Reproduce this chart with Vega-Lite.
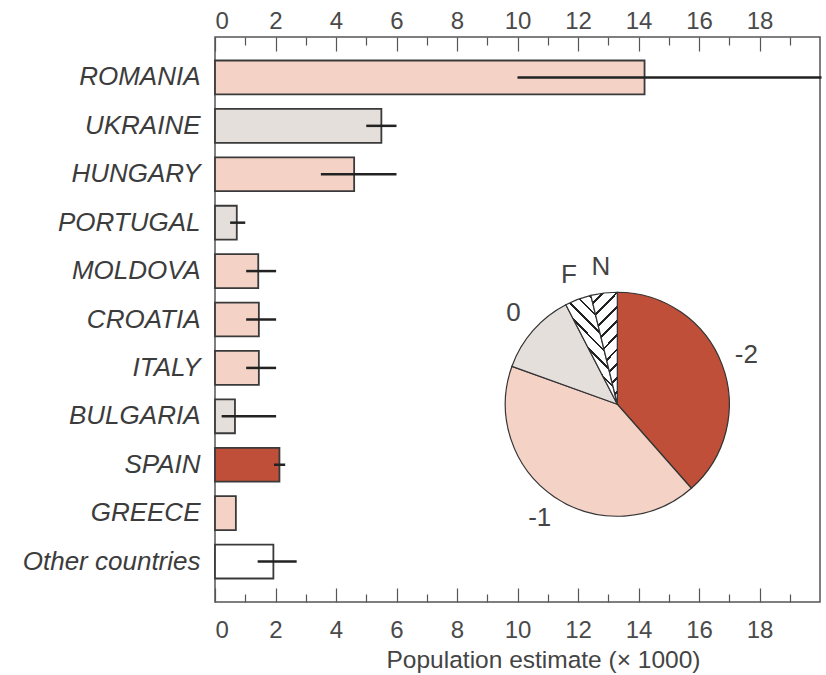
{
  "$schema": "https://vega.github.io/schema/vega-lite/v6.json",
  "width": 605,
  "height": 565,
  "autosize": {"type": "none"},
  "padding": {"left": 215, "top": 37, "right": 6, "bottom": 73},
  "background": "white",
  "config": {
    "view": {"stroke": "#555555", "strokeWidth": 1.5},
    "font": "Liberation Sans"
  },
  "datasets": {
    "countries": [
      {"country": "ROMANIA", "est": 14.2, "lo": 10.0, "hi": 20.05, "cat": "-1"},
      {"country": "UKRAINE", "est": 5.5, "lo": 5.0, "hi": 6.0, "cat": "0"},
      {"country": "HUNGARY", "est": 4.6, "lo": 3.5, "hi": 6.0, "cat": "-1"},
      {"country": "PORTUGAL", "est": 0.72, "lo": 0.5, "hi": 1.0, "cat": "0"},
      {"country": "MOLDOVA", "est": 1.43, "lo": 1.03, "hi": 2.02, "cat": "-1"},
      {"country": "CROATIA", "est": 1.45, "lo": 1.03, "hi": 2.02, "cat": "-1"},
      {"country": "ITALY", "est": 1.45, "lo": 1.03, "hi": 2.02, "cat": "-1"},
      {"country": "BULGARIA", "est": 0.66, "lo": 0.22, "hi": 2.02, "cat": "0"},
      {"country": "SPAIN", "est": 2.13, "lo": 1.95, "hi": 2.32, "cat": "-2"},
      {"country": "GREECE", "est": 0.69, "lo": null, "hi": null, "cat": "-1"},
      {"country": "Other countries", "est": 1.93, "lo": 1.41, "hi": 2.7, "cat": "other"}
    ],
    "pie": [
      {"cat": "-2", "v": 38.5, "order": 1},
      {"cat": "-1", "v": 42.0, "order": 2},
      {"cat": "0", "v": 11.9, "order": 3},
      {"cat": "F", "v": 3.8, "order": 4},
      {"cat": "N", "v": 3.8, "order": 5}
    ]
  },
  "layer": [
    {
      "data": {"name": "countries"},
      "mark": {"type": "bar", "stroke": "#3a3a3a", "strokeWidth": 1.8},
      "encoding": {
        "y": {
          "field": "country", "type": "nominal",
          "scale": {"domain": ["ROMANIA", "UKRAINE", "HUNGARY", "PORTUGAL", "MOLDOVA", "CROATIA", "ITALY", "BULGARIA", "SPAIN", "GREECE", "Other countries"], "paddingInner": 0.3, "paddingOuter": 0.485},
          "axis": {
            "title": null, "ticks": false, "domain": false,
            "labelFontSize": 26, "labelFontStyle": "italic",
            "labelFont": "Liberation Sans", "labelColor": "#3c3c3c",
            "labelPadding": 15
          }
        },
        "x": {
          "field": "est", "type": "quantitative",
          "scale": {"domain": [0, 20], "nice": false, "zero": true},
          "axis": {
            "orient": "bottom",
            "values": [0,1,2,3,4,5,6,7,8,9,10,11,12,13,14,15,16,17,18,19],
            "labelExpr": "datum.value % 2 === 0 ? datum.label : ''",
            "grid": false, "domain": false,
            "tickColor": "#555555", "tickWidth": 1.2,
            "tickSize": {"condition": {"test": "datum.value % 2 === 0", "value": -14}, "value": -8},
            "labelFontSize": 24, "labelColor": "#4a4a4a", "labelFont": "Liberation Sans",
            "labelPadding": 30,
            "title": "Population estimate (× 1000)",
            "titleFontSize": 24.5, "titleFontWeight": "normal", "titleColor": "#444444",
            "titleFont": "Liberation Sans", "titlePadding": 6,
            "titleX": 328, "titleAlign": "center"
          }
        },
        "color": {
          "field": "cat", "type": "nominal", "legend": null,
          "scale": {"domain": ["-2", "-1", "0", "other"], "range": ["#bf4f38", "#f4d2c6", "#e4dfdb", "#ffffff"]}
        }
      }
    },
    {
      "data": {"name": "countries"},
      "mark": {"type": "rule", "color": "#222222", "strokeWidth": 2.5},
      "encoding": {
        "y": {
          "field": "country", "type": "nominal",
          "scale": {"domain": ["ROMANIA", "UKRAINE", "HUNGARY", "PORTUGAL", "MOLDOVA", "CROATIA", "ITALY", "BULGARIA", "SPAIN", "GREECE", "Other countries"], "paddingInner": 0.3, "paddingOuter": 0.485},
          "axis": null
        },
        "x": {
          "field": "lo", "type": "quantitative",
          "axis": {
            "orient": "top",
            "values": [0,1,2,3,4,5,6,7,8,9,10,11,12,13,14,15,16,17,18,19],
            "labelExpr": "datum.value % 2 === 0 ? datum.label : ''",
            "grid": false, "domain": false,
            "tickColor": "#555555", "tickWidth": 1.2,
            "tickSize": {"condition": {"test": "datum.value % 2 === 0", "value": -14}, "value": -8},
            "labelFontSize": 24, "labelColor": "#4a4a4a", "labelFont": "Liberation Sans",
            "labelPadding": 18,
            "title": null
          }
        },
        "x2": {"field": "hi"}
      }
    },
    {
      "data": {"name": "pie"},
      "transform": [
        {"stack": "v", "groupby": [], "sort": [{"field": "order", "order": "ascending"}], "as": ["t0", "t1"]}
      ],
      "encoding": {
        "x": {"datum": 13.3, "type": "quantitative", "axis": null},
        "y": {"datum": 0.35, "type": "quantitative", "scale": {"domain": [0, 1]}, "axis": null}
      },
      "layer": [
        {
          "transform": [{"filter": "datum.cat === '-2' || datum.cat === '-1' || datum.cat === '0'"}],
          "mark": {"type": "arc", "radius": 112, "stroke": "#333333", "strokeWidth": 1.2},
          "encoding": {
            "theta": {"field": "t0", "type": "quantitative", "stack": null, "scale": {"domain": [0, 100]}},
            "theta2": {"field": "t1"},
            "color": {"field": "cat", "type": "nominal", "legend": null}
          }
        },
        {
          "transform": [{"filter": "datum.cat === 'F'"}],
          "mark": {
            "type": "arc", "radius": 112, "stroke": "#333333", "strokeWidth": 1.2,
            "fill": {
              "gradient": "linear", "x1": 0, "y1": 1, "x2": 0.48, "y2": 0,
              "stops": [
                {"offset": 0.0, "color": "#ffffff"}, {"offset": 0.08, "color": "#ffffff"}, {"offset": 0.08, "color": "#222222"}, {"offset": 0.1, "color": "#222222"},
                {"offset": 0.1, "color": "#ffffff"}, {"offset": 0.18, "color": "#ffffff"}, {"offset": 0.18, "color": "#222222"}, {"offset": 0.2, "color": "#222222"},
                {"offset": 0.2, "color": "#ffffff"}, {"offset": 0.28, "color": "#ffffff"}, {"offset": 0.28, "color": "#222222"}, {"offset": 0.3, "color": "#222222"},
                {"offset": 0.3, "color": "#ffffff"}, {"offset": 0.38, "color": "#ffffff"}, {"offset": 0.38, "color": "#222222"}, {"offset": 0.4, "color": "#222222"},
                {"offset": 0.4, "color": "#ffffff"}, {"offset": 0.48, "color": "#ffffff"}, {"offset": 0.48, "color": "#222222"}, {"offset": 0.5, "color": "#222222"},
                {"offset": 0.5, "color": "#ffffff"}, {"offset": 0.58, "color": "#ffffff"}, {"offset": 0.58, "color": "#222222"}, {"offset": 0.6, "color": "#222222"},
                {"offset": 0.6, "color": "#ffffff"}, {"offset": 0.68, "color": "#ffffff"}, {"offset": 0.68, "color": "#222222"}, {"offset": 0.7, "color": "#222222"},
                {"offset": 0.7, "color": "#ffffff"}, {"offset": 0.78, "color": "#ffffff"}, {"offset": 0.78, "color": "#222222"}, {"offset": 0.8, "color": "#222222"},
                {"offset": 0.8, "color": "#ffffff"}, {"offset": 0.88, "color": "#ffffff"}, {"offset": 0.88, "color": "#222222"}, {"offset": 0.9, "color": "#222222"},
                {"offset": 0.9, "color": "#ffffff"}, {"offset": 0.98, "color": "#ffffff"}, {"offset": 0.98, "color": "#222222"}, {"offset": 1.0, "color": "#222222"}
              ]
            }
          },
          "encoding": {
            "theta": {"field": "t0", "type": "quantitative", "stack": null, "scale": {"domain": [0, 100]}},
            "theta2": {"field": "t1"}
          }
        },
        {
          "transform": [{"filter": "datum.cat === 'N'"}],
          "mark": {
            "type": "arc", "radius": 112, "stroke": "#333333", "strokeWidth": 1.2,
            "fill": {
              "gradient": "linear", "x1": 0, "y1": 0, "x2": 0.29, "y2": 1.2,
              "stops": [
                {"offset": 0.0, "color": "#ffffff"}, {"offset": 0.08, "color": "#ffffff"}, {"offset": 0.08, "color": "#222222"}, {"offset": 0.1, "color": "#222222"},
                {"offset": 0.1, "color": "#ffffff"}, {"offset": 0.18, "color": "#ffffff"}, {"offset": 0.18, "color": "#222222"}, {"offset": 0.2, "color": "#222222"},
                {"offset": 0.2, "color": "#ffffff"}, {"offset": 0.28, "color": "#ffffff"}, {"offset": 0.28, "color": "#222222"}, {"offset": 0.3, "color": "#222222"},
                {"offset": 0.3, "color": "#ffffff"}, {"offset": 0.38, "color": "#ffffff"}, {"offset": 0.38, "color": "#222222"}, {"offset": 0.4, "color": "#222222"},
                {"offset": 0.4, "color": "#ffffff"}, {"offset": 0.48, "color": "#ffffff"}, {"offset": 0.48, "color": "#222222"}, {"offset": 0.5, "color": "#222222"},
                {"offset": 0.5, "color": "#ffffff"}, {"offset": 0.58, "color": "#ffffff"}, {"offset": 0.58, "color": "#222222"}, {"offset": 0.6, "color": "#222222"},
                {"offset": 0.6, "color": "#ffffff"}, {"offset": 0.68, "color": "#ffffff"}, {"offset": 0.68, "color": "#222222"}, {"offset": 0.7, "color": "#222222"},
                {"offset": 0.7, "color": "#ffffff"}, {"offset": 0.78, "color": "#ffffff"}, {"offset": 0.78, "color": "#222222"}, {"offset": 0.8, "color": "#222222"},
                {"offset": 0.8, "color": "#ffffff"}, {"offset": 0.88, "color": "#ffffff"}, {"offset": 0.88, "color": "#222222"}, {"offset": 0.9, "color": "#222222"},
                {"offset": 0.9, "color": "#ffffff"}, {"offset": 0.98, "color": "#ffffff"}, {"offset": 0.98, "color": "#222222"}, {"offset": 1.0, "color": "#222222"}
              ]
            }
          },
          "encoding": {
            "theta": {"field": "t0", "type": "quantitative", "stack": null, "scale": {"domain": [0, 100]}},
            "theta2": {"field": "t1"}
          }
        },
        {
          "mark": {"type": "text", "radius": 138, "fontSize": 26, "color": "#444444", "font": "Liberation Sans"},
          "encoding": {
            "theta": {"field": "v", "type": "quantitative", "stack": true},
            "order": {"field": "order", "type": "quantitative"},
            "text": {"field": "cat", "type": "nominal"}
          }
        }
      ]
    }
  ],
  "resolve": {"scale": {"y": "independent"}, "axis": {"x": "independent"}}
}
